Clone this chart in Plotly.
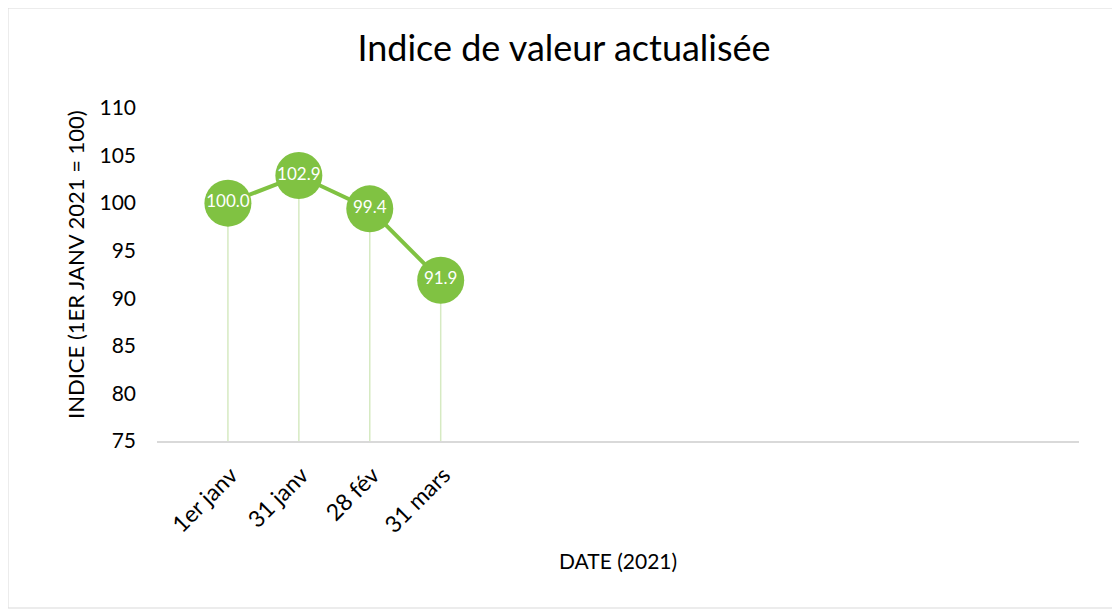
import plotly.graph_objects as go

categories = ["1er janv", "31 janv", "28 fév", "31 mars"]
values = [100.0, 102.9, 99.4, 91.9]
y_ticks = [75, 80, 85, 90, 95, 100, 105, 110]

GREEN = "#80C242"
DROP = "#D6EAC2"
FONT = "Lato, 'Open Sans', sans-serif"

xs = list(range(len(categories)))
y_min = 75

fig = go.Figure()

# drop lines
for x, v in zip(xs, values):
    fig.add_trace(go.Scatter(x=[x, x], y=[y_min, v], mode="lines",
                             line=dict(color=DROP, width=1.5),
                             hoverinfo="skip", showlegend=False))

fig.add_trace(go.Scatter(
    x=xs, y=values, mode="lines+markers+text",
    line=dict(color=GREEN, width=4),
    marker=dict(size=47, color=GREEN, line=dict(width=0)),
    text=[f"{v:.1f}" for v in values],
    textposition="middle center",
    textfont=dict(color="white", size=17, family=FONT),
    showlegend=False,
))

OFF = 8  # page body margin
W, H = 1120 - OFF, 609 - OFF
L, T = 157 - OFF, 108 - OFF
R = W - (1079 - OFF)
B = H - (441 - OFF)
pw, ph = W - L - R, H - T - B

def px_x(px):
    return (px - OFF - L) / pw

def px_y(py):
    return (H - B - (py - OFF)) / ph

fig.update_layout(
    width=W, height=H,
    margin=dict(l=L, r=R, t=T, b=B),
    paper_bgcolor="white", plot_bgcolor="white",
    font=dict(family=FONT, color="#000000"),
    title=dict(text="Indice de valeur actualisée", x=px_x(564), xanchor="center", xref="paper",
               y=1 - (48 - OFF) / H, yanchor="middle",
               font=dict(size=36, family=FONT, color="#000000")),
    xaxis=dict(range=[-1, 12], tickmode="array", tickvals=xs, ticktext=categories,
               tickangle=-45, tickfont=dict(size=23, family=FONT),
               ticklabelstandoff=10, ticklabelshift=3,
               showgrid=False, zeroline=False, showline=True,
               linecolor="#D9D9D9", linewidth=1.5, ticks=""),
    yaxis=dict(range=[75, 110], tickmode="array", tickvals=y_ticks,
               tickfont=dict(size=21, family=FONT),
               showgrid=False, zeroline=False, showline=False, ticks="",
               ticklabelstandoff=20),
    annotations=[
        dict(text="DATE (2021)", xref="paper", yref="paper", x=px_x(618), y=px_y(560),
             xanchor="center", yanchor="middle", showarrow=False,
             font=dict(size=21, family=FONT, color="#000000")),
        dict(text="INDICE (1ER JANV 2021 = 100)", xref="paper", yref="paper",
             x=px_x(75), y=px_y(265), textangle=-90,
             xanchor="center", yanchor="middle", showarrow=False,
             font=dict(size=22, family=FONT, color="#000000")),
    ],
    shapes=[dict(type="rect", xref="paper", yref="paper",
                 x0=px_x(OFF), x1=px_x(1119),
                 y0=px_y(608), y1=px_y(OFF),
                 line=dict(color="#D9D9D9", width=1), fillcolor="rgba(0,0,0,0)",
                 layer="below")],
)

fig.write_html("out.html")
